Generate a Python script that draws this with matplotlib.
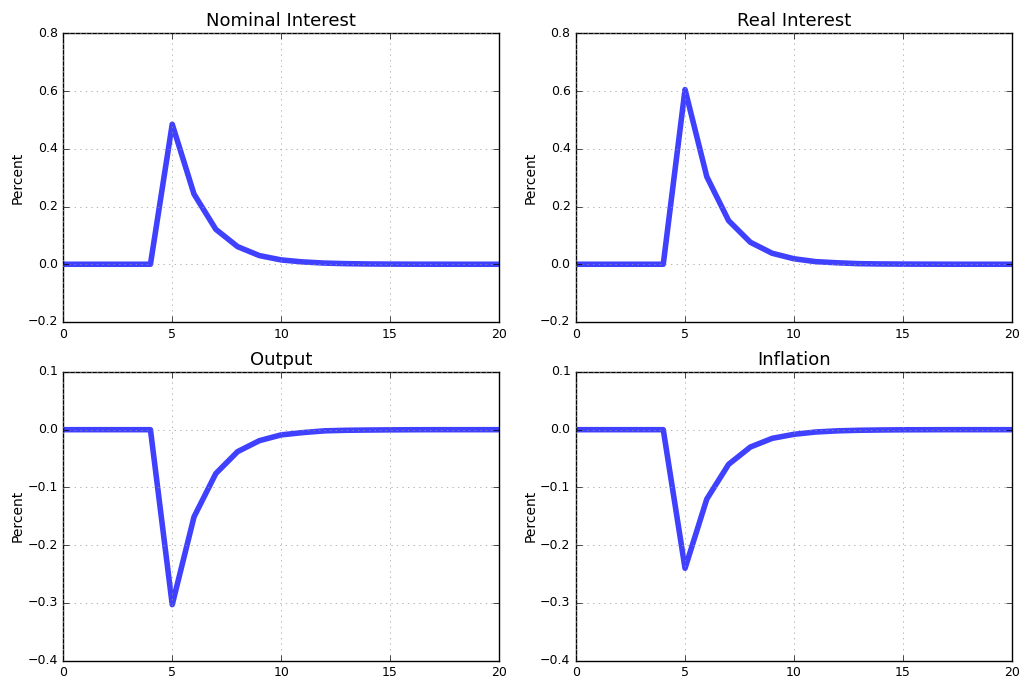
import matplotlib
matplotlib.use('Agg')
import matplotlib.pyplot as plt

periods = list(range(21))
nominal_interest = [0, 0, 0, 0, 0, 0.485, 0.243, 0.121, 0.061, 0.030, 0.015,
                    0.008, 0.004, 0.002, 0.001, 0.0005, 0.0002, 0.0001, 0, 0, 0]
real_interest = [0, 0, 0, 0, 0, 0.605, 0.303, 0.151, 0.076, 0.038, 0.019,
                 0.009, 0.005, 0.002, 0.001, 0.0006, 0.0003, 0.0001, 0, 0, 0]
output = [0, 0, 0, 0, 0, -0.303, -0.151, -0.076, -0.038, -0.019, -0.009,
          -0.005, -0.002, -0.001, -0.0006, -0.0003, -0.0001, 0, 0, 0, 0]
inflation = [0, 0, 0, 0, 0, -0.240, -0.120, -0.060, -0.030, -0.015, -0.008,
             -0.004, -0.002, -0.001, -0.0005, -0.0002, -0.0001, 0, 0, 0, 0]

titles = ['Nominal Interest', 'Real Interest', 'Output', 'Inflation']
series = [nominal_interest, real_interest, output, inflation]
ylims = [(-0.2, 0.8), (-0.2, 0.8), (-0.4, 0.1), (-0.4, 0.1)]

plt.style.use('classic')
fig, axes = plt.subplots(2, 2, figsize=(10.21, 6.79), dpi=100)
fig.patch.set_facecolor('white')
plt.subplots_adjust(left=0.062, right=0.991, top=0.951, bottom=0.027,
                    wspace=0.177, hspace=0.173)

for ax, title, y, lim in zip(axes.flat, titles, series, ylims):
    ax.plot(periods, y, color='blue', lw=4, alpha=0.75)
    ax.set_xlim(0, 20)
    ax.set_ylim(*lim)
    ax.set_title(title, fontsize=13)
    ax.set_ylabel('Percent', fontsize=10, labelpad=2)
    ax.tick_params(labelsize=9)
    ax.grid(True, color='0.6')

fig.savefig('out.png', dpi=100, facecolor='white')
